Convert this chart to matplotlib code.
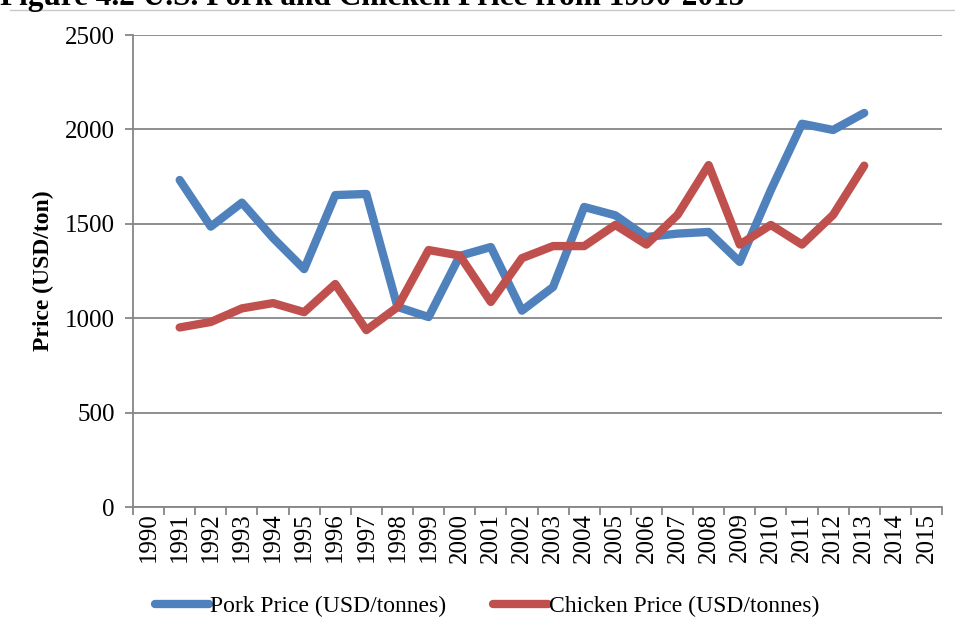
import numpy as np
import matplotlib
matplotlib.use('Agg')
import matplotlib.pyplot as plt
from matplotlib.lines import Line2D

# --- Data
years = [str(y) for y in range(1990, 2016)]
data_years = [str(y) for y in range(1991, 2014)]
pork = [1732, 1485, 1612, 1425, 1260, 1652, 1658, 1060, 1006, 1330,
        1377, 1040, 1165, 1589, 1545, 1430, 1448, 1457, 1298, 1679,
        2030, 1997, 2087]
chicken = [951, 980, 1052, 1080, 1032, 1181, 937, 1059, 1361, 1332,
           1086, 1318, 1382, 1382, 1494, 1390, 1547, 1811, 1390, 1494,
           1390, 1547, 1808]

BLUE = '#4F81BD'
RED = '#C0504D'
GRID = '#868686'

plt.rcParams['font.family'] = ['Liberation Serif', 'DejaVu Serif']

fig = plt.figure(figsize=(9.55, 6.36), dpi=100)
ax = fig.add_axes([133 / 955, 1 - 507 / 636, (942 - 133) / 955, (507 - 35) / 636])

x = [years.index(y) for y in data_years]
ax.plot(x, pork, color=BLUE, lw=6, solid_capstyle='round', solid_joinstyle='round')
ax.plot(x, chicken, color=RED, lw=6, solid_capstyle='round', solid_joinstyle='round')

# --- axes styling (Excel look)
ax.set_xlim(-0.5, len(years) - 0.5)
ax.set_ylim(0, 2500)
ax.set_yticks(np.arange(0, 2501, 500))
ax.yaxis.grid(True, color=GRID, lw=1.3)
ax.set_axisbelow(True)
for s in ['top', 'right']:
    ax.spines[s].set_visible(False)
for s in ['left', 'bottom']:
    ax.spines[s].set_color(GRID)
    ax.spines[s].set_linewidth(1.3)

ax.set_xticks(np.arange(-0.5, len(years), 1))
ax.set_xticklabels([])
ax.set_xticks(np.arange(len(years)), minor=True)
ax.set_xticklabels(years, minor=True, rotation=90, fontsize=18)
ax.tick_params(axis='x', which='major', length=6, color=GRID, width=1.3)
ax.tick_params(axis='x', which='minor', length=0, pad=4)
ax.tick_params(axis='y', length=6, color=GRID, width=1.3, labelsize=18, pad=7)

ax.set_ylabel('Price (USD/ton)', fontsize=17, fontweight='bold', labelpad=8)

# --- title, partly cut off at the top like the source
fig.text(0.0, 1 - 5 / 636, 'Figure 4.2 U.S. Pork and Chicken Price from 1990-2015',
         fontsize=22.5, fontweight='bold', ha='left', va='baseline')
fig.add_artist(Line2D([10 / 955, 1], [1 - 9.5 / 636, 1 - 9.5 / 636],
                      color='#c8c8c8', lw=1))

handles = [Line2D([], [], color=BLUE, lw=6, solid_capstyle='round'),
           Line2D([], [], color=RED, lw=6, solid_capstyle='round')]
fig.legend(handles, ['Pork Price (USD/tonnes)', 'Chicken Price (USD/tonnes)'],
           loc='center', bbox_to_anchor=(487 / 955, 1 - 606 / 636), ncol=2,
           frameon=False, fontsize=17, handlelength=2.3, handletextpad=0.05,
           columnspacing=2.0)

fig.savefig('out.png', dpi=100)
